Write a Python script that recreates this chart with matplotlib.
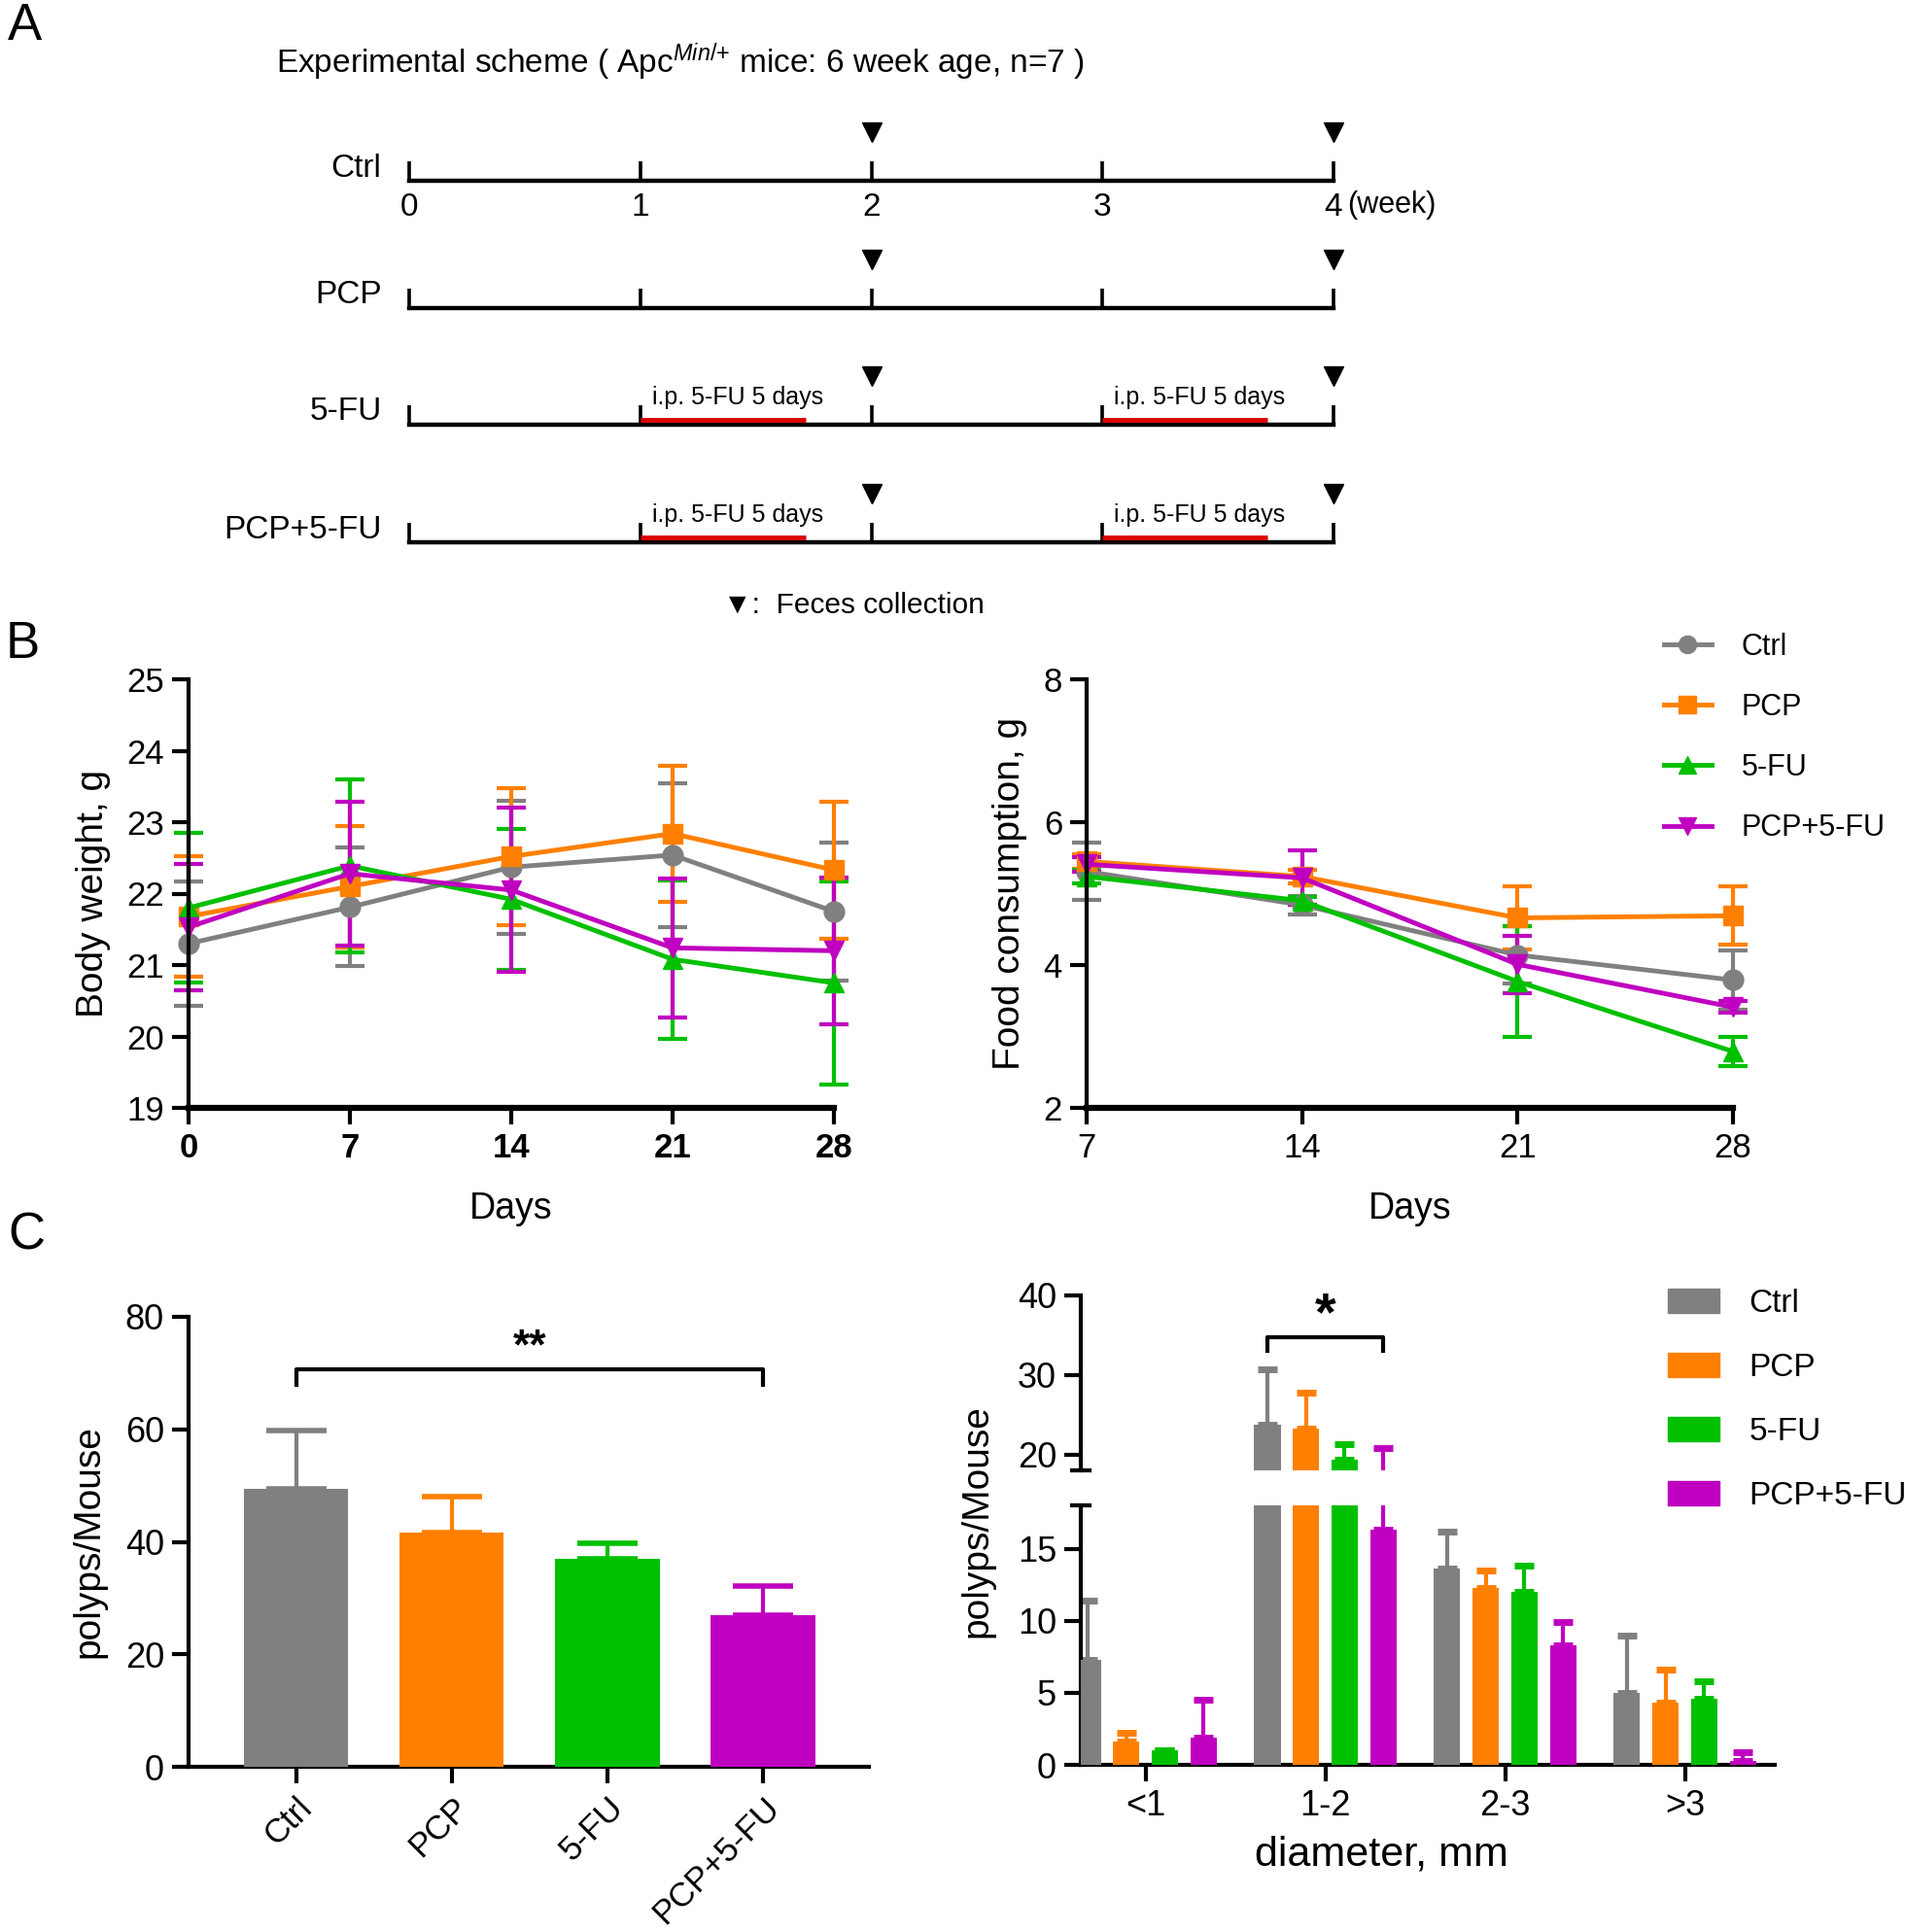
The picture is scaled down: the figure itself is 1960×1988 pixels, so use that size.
import numpy as np
import matplotlib
matplotlib.use("Agg")
import matplotlib.pyplot as plt
from matplotlib.lines import Line2D
from matplotlib.patches import Patch

plt.rcParams['font.family'] = ['Liberation Sans', 'DejaVu Sans']
plt.rcParams['mathtext.fontset'] = 'custom'
plt.rcParams['mathtext.rm'] = 'Liberation Sans'
plt.rcParams['mathtext.it'] = 'Liberation Sans:italic'

# groups and styles
groups = ['Ctrl', 'PCP', '5-FU', 'PCP+5-FU']
colors = ['#808080', '#FF8000', '#00C000', '#C000C0']
markers = ['o', 's', '^', 'v']

# experimental scheme
weeks = [0, 1, 2, 3, 4]
feces_weeks = [2, 4]
injection_starts = [1, 3]
injection_days = 5
injected = [False, False, True, True]

# body weight (g)
bw_days = [0, 7, 14, 21, 28]
bw_ctrl = [21.30, 21.81, 22.37, 22.54, 21.75]
bw_pcp = [21.68, 22.10, 22.52, 22.84, 22.33]
bw_5fu = [21.80, 22.39, 21.92, 21.08, 20.75]
bw_combo = [21.53, 22.28, 22.05, 21.24, 21.20]
bw_ctrl_sd = [0.87, 0.83, 0.93, 1.01, 0.97]
bw_pcp_sd = [0.85, 0.85, 0.96, 0.95, 0.96]
bw_5fu_sd = [1.05, 1.21, 0.99, 1.11, 1.42]
bw_combo_sd = [0.88, 1.01, 1.15, 0.97, 1.03]

# food consumption (g)
fc_days = [7, 14, 21, 28]
fc_ctrl = [5.31, 4.84, 4.14, 3.79]
fc_pcp = [5.45, 5.24, 4.66, 4.69]
fc_5fu = [5.24, 4.90, 3.77, 2.79]
fc_combo = [5.41, 5.22, 4.01, 3.41]
fc_ctrl_sd = [0.40, 0.13, 0.40, 0.41]
fc_pcp_sd = [0.10, 0.10, 0.44, 0.41]
fc_5fu_sd = [0.10, 0.05, 0.78, 0.20]
fc_combo_sd = [0.10, 0.38, 0.40, 0.08]

# total polyps per mouse
polyps_total = [49.5, 41.7, 37.0, 27.0]
polyps_total_sd = [10.3, 6.4, 2.7, 5.2]

# polyps by diameter
size_bins = ['<1', '1-2', '2-3', '>3']
size_ctrl = [7.3, 23.7, 13.6, 5.0]
size_pcp = [1.6, 23.2, 12.3, 4.3]
size_5fu = [1.0, 19.3, 12.0, 4.6]
size_combo = [1.9, 16.3, 8.3, 0.3]
size_ctrl_sd = [4.1, 7.0, 2.6, 4.0]
size_pcp_sd = [0.65, 4.6, 1.2, 2.3]
size_5fu_sd = [0.0, 2.0, 1.8, 1.2]
size_combo_sd = [2.65, 4.5, 1.6, 0.6]

bw_means = [bw_ctrl, bw_pcp, bw_5fu, bw_combo]
bw_sds = [bw_ctrl_sd, bw_pcp_sd, bw_5fu_sd, bw_combo_sd]
fc_means = [fc_ctrl, fc_pcp, fc_5fu, fc_combo]
fc_sds = [fc_ctrl_sd, fc_pcp_sd, fc_5fu_sd, fc_combo_sd]
size_means = [size_ctrl, size_pcp, size_5fu, size_combo]
size_sds = [size_ctrl_sd, size_pcp_sd, size_5fu_sd, size_combo_sd]

W, H = 1960, 1988
fig = plt.figure(figsize=(W / 100, H / 100), dpi=100)


def fx(px):
    return px / W


def fy(py):
    return 1 - py / H


def axes_px(left, top, right, bottom):
    return fig.add_axes([fx(left), fy(bottom), (right - left) / W, (bottom - top) / H])


def style_axis(ax, size=24):
    for s in ['top', 'right']:
        ax.spines[s].set_visible(False)
    for s in ['left', 'bottom']:
        ax.spines[s].set_linewidth(3)
    ax.tick_params(direction='out', length=12, width=3, labelsize=size, pad=6)


def no_clip(container):
    for art in container.get_children():
        art.set_clip_on(False)


# panel letters
fig.text(fx(8), fy(27), 'A', fontsize=38, va='center')
fig.text(fx(6), fy(663), 'B', fontsize=38, va='center')
fig.text(fx(8), fy(1272), 'C', fontsize=38, va='center')

# ---- A: experimental scheme ----
px_week = (1372 - 421) / 4
axA = fig.add_axes([0, fy(650), 1, 650 / H])
axA.set_xlim(-421 / px_week, (W - 421) / px_week)
axA.set_ylim(650, 0)
axA.axis('off')

fig.text(fx(284), fy(64), r'Experimental scheme ( Apc$^{\mathit{Min/}{+}}$ mice: 6 week age, n=7 )',
         fontsize=24, va='center')

row_y = [186, 317, 437, 558]
for i, g in enumerate(groups):
    y = row_y[i]
    axA.plot([weeks[0], weeks[-1]], [y, y], color='k', lw=3.2, solid_capstyle='projecting')
    axA.vlines(weeks, y - 20, y, color='k', lw=2.6)
    axA.plot(feces_weeks, [y - 50] * len(feces_weeks), 'kv', ms=15)
    axA.text(-0.12, y - 13, g, ha='right', va='center', fontsize=24)
    if injected[i]:
        for s in injection_starts:
            axA.plot([s, s + injection_days / 7], [y - 5, y - 5], color='#DD0000', lw=3.5,
                     solid_capstyle='butt')
            axA.text(s + 0.05, y - 28, 'i.p. 5-FU 5 days', fontsize=18, va='center')

for w in weeks:
    axA.text(w, row_y[0] + 28, str(w), ha='center', va='center', fontsize=24)
axA.text(weeks[-1] + 0.06, row_y[0] + 25, '(week)', ha='left', va='center', fontsize=22)

fig.text(fx(744), fy(623), '\u25bc:  Feces collection', fontsize=21.5, va='center',
         family=['Liberation Sans', 'DejaVu Sans'])

# ---- B left: body weight ----
axB1 = axes_px(194, 699, 858, 1140)
for i in range(4):
    eb = axB1.errorbar(bw_days, bw_means[i], yerr=bw_sds[i], color=colors[i], marker=markers[i],
                       ms=15, lw=3.5, elinewidth=3, capsize=11, capthick=3)
    no_clip(eb)
axB1.set_xlim(0, 28)
axB1.set_ylim(19, 25)
axB1.set_xticks(bw_days)
axB1.set_yticks(np.arange(19, 26, 1))
style_axis(axB1, 25)
axB1.spines['bottom'].set_linewidth(4.5)
for lab in axB1.get_xticklabels():
    lab.set_fontweight('bold')
axB1.set_xlabel('Days', fontsize=27, labelpad=20)
axB1.set_ylabel('Body weight, g', fontsize=28, labelpad=12)

# ---- B right: food consumption ----
axB2 = axes_px(1118, 699, 1783, 1140)
for i in range(4):
    eb = axB2.errorbar(fc_days, fc_means[i], yerr=fc_sds[i], color=colors[i], marker=markers[i],
                       ms=15, lw=3.5, elinewidth=3, capsize=11, capthick=3)
    no_clip(eb)
axB2.set_xlim(7, 28)
axB2.set_ylim(2, 8)
axB2.set_xticks(fc_days)
axB2.set_yticks([2, 4, 6, 8])
style_axis(axB2, 25)
axB2.spines['bottom'].set_linewidth(4.5)
axB2.set_xlabel('Days', fontsize=27, labelpad=20)
axB2.set_ylabel('Food consumption, g', fontsize=28, labelpad=12)

line_handles = [Line2D([], [], color=c, marker=m, ms=13, lw=3.5) for c, m in zip(colors, markers)]
fig.legend(line_handles, groups, loc='upper left', bbox_to_anchor=(fx(1712), fy(651)),
           frameon=False, fontsize=22, handlelength=1.6, handletextpad=1.0, labelspacing=1.05,
           borderpad=0, borderaxespad=0)

# ---- C left: total polyps ----
axC1 = axes_px(194, 1355, 894, 1818)
xc = np.arange(len(groups))
axC1.bar(xc, polyps_total, 0.67, color=colors, zorder=3)
for i in range(4):
    axC1.errorbar(xc[i], polyps_total[i], yerr=[[0], [polyps_total_sd[i]]], fmt='none',
                  ecolor=colors[i], elinewidth=3, capsize=22, capthick=4, zorder=2)
axC1.set_xlim(-0.69, 3.68)
axC1.set_ylim(0, 80)
axC1.set_yticks(np.arange(0, 81, 20))
axC1.set_xticks(xc)
style_axis(axC1, 26)
axC1.set_xticklabels(groups, rotation=45, ha='right', rotation_mode='anchor', fontsize=25)
axC1.set_ylabel('polyps/Mouse', fontsize=28, labelpad=14)
axC1.plot([xc[0], xc[0], xc[3], xc[3]], [67.9, 70.6, 70.6, 67.9], color='k', lw=3)
axC1.text((xc[0] + xc[3]) / 2, 74.5, '**', ha='center', va='center', fontsize=32, fontweight='bold')

# ---- C right: polyps by size (broken axis) ----
axU = axes_px(1112, 1333, 1826, 1513)
axL = axes_px(1112, 1549, 1826, 1816)
xs = np.arange(len(size_bins))
pitch, width = 0.215, 0.147
for ax in (axU, axL):
    for i in range(4):
        pos = xs + (i - 1.5) * pitch
        ax.bar(pos, size_means[i], width, color=colors[i], zorder=3)
        ax.errorbar(pos, size_means[i], yerr=[np.zeros(4), size_sds[i]], fmt='none',
                    ecolor=colors[i], elinewidth=3, capsize=7, capthick=5, zorder=2)
    ax.set_xlim(-0.36, 3.5)
    style_axis(ax, 26)

axU.set_ylim(18, 40)
axU.set_yticks([20, 30, 40])
axU.spines['bottom'].set_visible(False)
axU.set_xticks([])
axU.plot([-0.012, 0.012], [0, 0], transform=axU.transAxes, color='k', lw=3, clip_on=False)

axL.set_ylim(0, 18)
axL.set_yticks([0, 5, 10, 15])
axL.set_xticks(xs)
axL.set_xticklabels(size_bins, fontsize=26)
axL.plot([-0.012, 0.012], [1, 1], transform=axL.transAxes, color='k', lw=3, clip_on=False)
axL.set_xlabel('diameter, mm', fontsize=31)
axL.xaxis.set_label_coords(0.434, -0.27)
fig.text(fx(1005), fy(1565), 'polyps/Mouse', fontsize=28, rotation=90, ha='center', va='center')

b0, b1 = xs[1] - 1.5 * pitch, xs[1] + 1.5 * pitch
axU.plot([b0, b0, b1, b1], [33.0, 34.7, 34.7, 33.0], color='k', lw=3, clip_on=False)
axU.text(xs[1], 37.4, '*', ha='center', va='center', fontsize=40, fontweight='bold')

patch_handles = [Patch(color=c) for c in colors]
fig.legend(patch_handles, groups, loc='upper left', bbox_to_anchor=(fx(1716), fy(1326)),
           frameon=False, fontsize=24, handlelength=1.6, handleheight=0.75, handletextpad=0.9,
           labelspacing=1.05, borderpad=0, borderaxespad=0)

fig.savefig('out.png', dpi=100)
